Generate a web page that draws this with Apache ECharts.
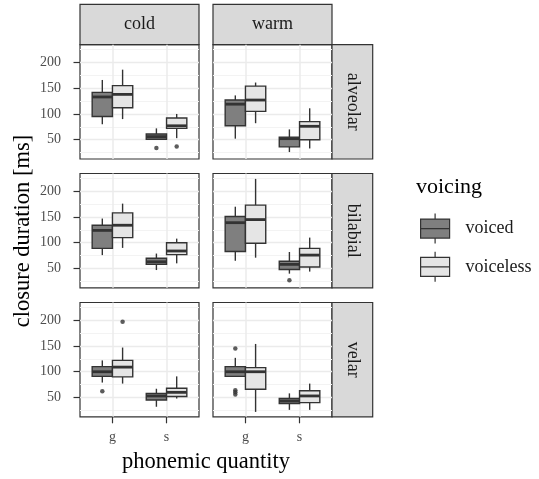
<!DOCTYPE html>
<html>
<head>
<meta charset="utf-8">
<script src="https://cdn.jsdelivr.net/npm/echarts@6/dist/echarts.min.js"></script>
<style>
  html, body { margin: 0; background: #fff; }
  #chart { width: 539px; height: 479px; }
</style>
</head>
<body>
<div id="chart"></div>
<script>
const temps = ["cold", "warm"];
const places = ["alveolar", "bilabial", "velar"];
const quantities = ["g", "s"];
const voicings = ["voiced", "voiceless"];
const yTicks = [50, 100, 150, 200];
const yMinorTicks = [25, 75, 125, 175, 225];

// [min, q1, median, q3, max] for g then s
// panels: alveolar cold, alveolar warm, bilabial cold, bilabial warm, velar cold, velar warm
const voicedStats = [
  [[80, 95, 133, 142, 166], [50, 51, 56, 61, 72]],
  [[52, 77, 119, 127, 136], [26, 36, 52, 55, 70]],
  [[76, 89, 124, 134, 147], [47, 58, 63, 70, 79]],
  [[65, 83, 139, 151, 170], [40, 48, 58, 64, 82]],
  [[79, 91, 100, 110, 122], [32, 45, 53, 58, 67]],
  [[90, 91, 100, 110, 127], [26, 38, 43, 48, 58]],
];
const voicelessStats = [
  [[90, 112, 138, 155, 186], [53, 72, 77, 92, 100]],
  [[82, 105, 127, 154, 161], [33, 50, 76, 85, 111]],
  [[90, 110, 134, 158, 176], [60, 77, 84, 100, 108]],
  [[71, 99, 145, 173, 224], [44, 53, 76, 89, 110]],
  [[77, 90, 109, 122, 147], [48, 52, 60, 68, 91]],
  [[22, 66, 100, 108, 154], [26, 40, 53, 63, 77]],
];
// [quantity index, value]
const voicedOutliers = [[[1, 34]], [], [], [[1, 27]], [[0, 62]], [[0, 145], [0, 64], [0, 60], [0, 56]]];
const voicelessOutliers = [[[1, 37]], [], [], [], [[0, 197]], []];

const fills = ["#7f7f7f", "#e5e5e5"];
const font = "Liberation Serif";
const colLeft = [80, 213];
const rowTop = [44.7, 173.5, 302.5];
const panelW = 119;
const panelH = 114.3;
const dodge = 0.1875;
const boxW = 0.375;

function renderBox(params, api) {
  const x = api.value(0);
  const half = api.size([boxW, 0])[0] / 2;
  const lo = api.coord([x, api.value(1)]);
  const q1 = api.coord([x, api.value(2)]);
  const med = api.coord([x, api.value(3)]);
  const q3 = api.coord([x, api.value(4)]);
  const hi = api.coord([x, api.value(5)]);
  const line = { stroke: "#333", lineWidth: 1.4 };
  return {
    type: "group",
    children: [
      { type: "line", shape: { x1: lo[0], y1: lo[1], x2: q1[0], y2: q1[1] }, style: line },
      { type: "line", shape: { x1: q3[0], y1: q3[1], x2: hi[0], y2: hi[1] }, style: line },
      {
        type: "rect",
        shape: { x: q1[0] - half, y: q3[1], width: half * 2, height: q1[1] - q3[1] },
        style: { fill: api.visual("color"), stroke: "#333", lineWidth: 1.4 },
      },
      { type: "line", shape: { x1: med[0] - half, y1: med[1], x2: med[0] + half, y2: med[1] }, style: { stroke: "#333", lineWidth: 2.8 } },
    ],
  };
}

const grids = [], xAxes = [], yAxes = [], series = [], graphics = [];

places.forEach((place, r) => {
  temps.forEach((temp, c) => {
    const p = r * 2 + c;
    const bottomRow = r === places.length - 1;
    const leftCol = c === 0;
    grids.push({
      left: colLeft[c], top: rowTop[r], width: panelW, height: panelH,
      show: true, backgroundColor: "#fff", borderColor: "#333", borderWidth: 1.2,
    });
    xAxes.push({
      gridIndex: p, type: "value", min: 0.4, max: 2.6,
      axisLine: { show: false },
      axisTick: { show: bottomRow, customValues: [1, 2], length: 6.5, lineStyle: { color: "#333", width: 1.2 } },
      axisLabel: {
        show: bottomRow, customValues: [1, 2], margin: 14,
        formatter: (v) => quantities[Math.round(v) - 1],
        fontFamily: font, fontSize: 14, color: "#4d4d4d",
      },
      splitLine: { show: true, lineStyle: { color: "#ebebeb", width: 1.5 } },
    });
    yAxes.push({
      gridIndex: p, type: "value", min: 12.5, max: 234.5,
      axisLine: { show: false },
      axisTick: { show: leftCol, customValues: yTicks, length: 6.5, lineStyle: { color: "#333", width: 1.2 } },
      axisLabel: { show: leftCol, customValues: yTicks, margin: 19, fontFamily: font, fontSize: 14, color: "#4d4d4d" },
      splitLine: { show: true, lineStyle: { color: "#ebebeb", width: 1.3 } },
    });
    yAxes.push({
      gridIndex: p, type: "value", min: 12.5, max: 234.5,
      axisLine: { show: false },
      axisTick: { show: false, customValues: yMinorTicks },
      axisLabel: { show: false, customValues: yMinorTicks },
      splitLine: { show: true, lineStyle: { color: "#f3f3f3", width: 1 } },
    });

    const statsByVoicing = [voicedStats[p], voicelessStats[p]];
    voicings.forEach((v, k) => {
      const off = k === 0 ? -dodge : dodge;
      series.push({
        name: v, type: "custom", xAxisIndex: p, yAxisIndex: p * 2,
        itemStyle: { color: fills[k] },
        renderItem: renderBox,
        encode: { x: 0, y: [1, 2, 3, 4, 5] },
        data: statsByVoicing[k].map((s, q) => [q + 1 + off].concat(s)),
        z: 3,
      });
    });
    const outliers = []
      .concat(voicedOutliers[p].map((o) => [o[0] + 1 - dodge, o[1]]))
      .concat(voicelessOutliers[p].map((o) => [o[0] + 1 + dodge, o[1]]));
    series.push({
      type: "scatter", xAxisIndex: p, yAxisIndex: p * 2,
      data: outliers, symbolSize: 4.5, itemStyle: { color: "#333" }, z: 4,
    });
  });
});

// facet strips
temps.forEach((t, c) => {
  graphics.push({
    type: "rect", shape: { x: colLeft[c], y: 4.3, width: panelW, height: rowTop[0] - 4.3 },
    style: { fill: "#d9d9d9", stroke: "#333", lineWidth: 1.2 },
  });
  graphics.push({
    type: "text", x: colLeft[c] + panelW / 2, y: (4.3 + rowTop[0]) / 2,
    style: { text: t, font: "18px '" + font + "'", fill: "#1a1a1a", align: "center", verticalAlign: "middle" },
  });
});
places.forEach((pl, r) => {
  const x0 = colLeft[1] + panelW;
  graphics.push({
    type: "rect", shape: { x: x0, y: rowTop[r], width: 40.7, height: panelH },
    style: { fill: "#d9d9d9", stroke: "#333", lineWidth: 1.2 },
  });
  graphics.push({
    type: "text", x: x0 + 20.3, y: rowTop[r] + panelH / 2, rotation: -Math.PI / 2,
    style: { text: pl, font: "18px '" + font + "'", fill: "#1a1a1a", align: "center", verticalAlign: "middle" },
  });
});
// axis titles and legend title
graphics.push({
  type: "text", x: 23, y: 231, rotation: Math.PI / 2,
  style: { text: "closure duration [ms]", font: "22.5px '" + font + "'", fill: "#000", align: "center", verticalAlign: "middle" },
});
graphics.push({
  type: "text", x: 206, y: 462,
  style: { text: "phonemic quantity", font: "22.5px '" + font + "'", fill: "#000", align: "center", verticalAlign: "middle" },
});
graphics.push({
  type: "text", x: 416, y: 187,
  style: { text: "voicing", font: "22px '" + font + "'", fill: "#000", align: "left", verticalAlign: "middle" },
});

const keyIcon = "path://M14.5,0V5.5M14.5,24.5V30M0,5.5H29V24.5H0ZM0,15H29";

const option = {
  animation: false,
  backgroundColor: "#fff",
  grid: grids,
  xAxis: xAxes,
  yAxis: yAxes,
  series: series,
  graphic: graphics,
  legend: {
    data: voicings.map((v) => ({ name: v, icon: keyIcon })),
    orient: "vertical",
    left: 415, top: 208,
    itemWidth: 29, itemHeight: 30, itemGap: 7,
    itemStyle: { borderColor: "#333", borderWidth: 1.2 },
    textStyle: { fontFamily: font, fontSize: 18, color: "#1a1a1a", padding: [0, 0, 0, 11] },
    selectedMode: false,
  },
};

const chart = echarts.init(document.getElementById("chart"));
chart.setOption(option);
</script>
</body>
</html>
